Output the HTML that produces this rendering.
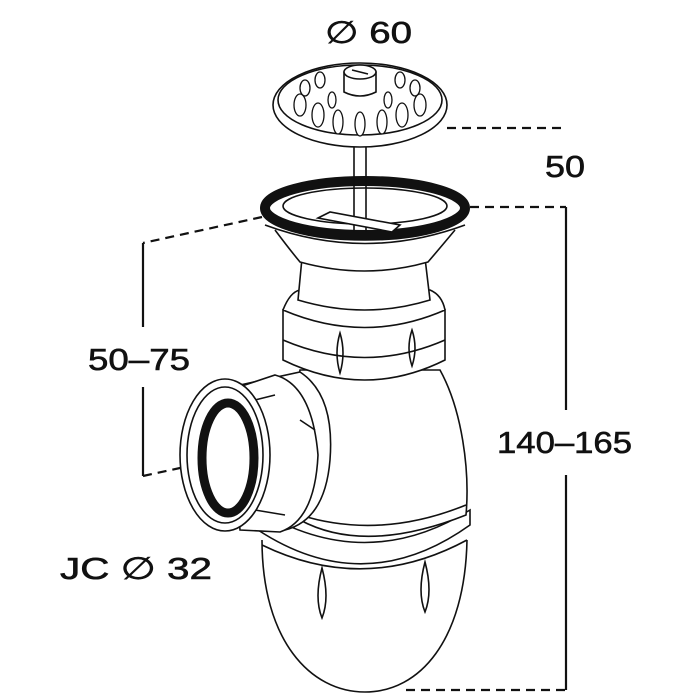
<!DOCTYPE html>
<html><head><meta charset="utf-8"><style>
html,body{margin:0;padding:0;background:#fff}
svg{display:block}
text{font-family:"Liberation Sans",sans-serif;fill:#111;stroke:#111;stroke-width:0.6}
</style></head><body>
<svg width="700" height="700" viewBox="0 0 700 700" xmlns="http://www.w3.org/2000/svg">
<g fill="none" stroke="#111" stroke-width="1.6">
<g stroke-width="2.2">
<path d="M447 128 H566" stroke-dasharray="9,6"/>
<path d="M470 207 H566" stroke-dasharray="9,6"/>
<path d="M566 207 V410 M566 475 V690"/>
<path d="M406 690 H566" stroke-dasharray="9,6"/>
<path d="M262 217 L143 243" stroke-dasharray="9,6"/>
<path d="M143 243 V327 M143 387 V476"/>
<path d="M143 476 L240 455" stroke-dasharray="9,6"/>
</g>
<path d="M262 540 C262 640 310 692 365 692 C420 692 465 640 467 540" fill="#fff"/>
<path d="M258 530 Q365 600 470 525 L470 510 Q365 575 258 510 Z" fill="#fff"/>
<path d="M262 545 Q365 595 467 540"/>
<path d="M322 568 q-8 30 0 50 q8 -20 0 -50 Z M425 562 q-8 30 0 50 q8 -20 0 -50 Z"/>
<path d="M300 370 C290 420 295 490 300 520 Q365 555 466 515 C470 470 462 410 440 370 Z" fill="#fff"/>
<path d="M300 515 Q380 540 466 505"/>
<path d="M283 310 L283 360 Q365 400 445 360 L445 310 Q365 345 283 310 Z" fill="#fff"/>
<path d="M283 310 Q290 292 300 290 L430 290 Q442 295 445 310" fill="#fff"/>
<path d="M283 340 Q365 375 445 340"/>
<path d="M340 333 q-6 20 0 40 q6 -20 0 -40 Z M412 330 q-6 18 0 36 q6 -18 0 -36 Z"/>
<path d="M298 300 L302 258 L425 258 L430 300 Q365 320 298 300 Z" fill="#fff"/>
<path d="M275 230 Q290 250 300 262 Q365 280 428 262 Q440 248 455 230" fill="#fff"/>
<ellipse cx="365" cy="210" rx="103" ry="30" fill="#fff"/>
<ellipse cx="365" cy="208" rx="100" ry="27" fill="none" stroke="#111" stroke-width="10"/>
<ellipse cx="365" cy="206" rx="82" ry="18" fill="#fff"/>
<path d="M265 225 Q365 262 465 225"/>
<path d="M354 120 V232 M366 120 V232"/>
<path d="M318 218 L330 212 L400 225 L392 232 Z" fill="#fff"/>
<path d="M240 385 L300 372 Q335 395 330 460 Q325 520 285 530 L245 525 Z" fill="#fff"/>
<path d="M230 390 L275 375 Q312 385 318 455 Q315 520 280 532 L240 530 Z" fill="#fff"/>
<path d="M255 400 L275 395 M300 420 L315 430 M255 510 L285 515"/>
<ellipse cx="225" cy="455" rx="45" ry="76" fill="#fff"/>
<ellipse cx="225" cy="455" rx="38" ry="68"/>
<ellipse cx="228" cy="458" rx="26" ry="55" fill="none" stroke="#111" stroke-width="9"/>
<ellipse cx="360" cy="105" rx="87" ry="42" fill="#fff"/>
<ellipse cx="360" cy="100" rx="82" ry="35"/>
<g fill="#fff" stroke-width="1.3">
<ellipse cx="300" cy="105" rx="6" ry="11"/><ellipse cx="318" cy="115" rx="6" ry="12"/>
<ellipse cx="338" cy="122" rx="5" ry="12"/><ellipse cx="360" cy="124" rx="5" ry="12"/>
<ellipse cx="382" cy="122" rx="5" ry="12"/><ellipse cx="402" cy="115" rx="6" ry="12"/>
<ellipse cx="420" cy="105" rx="6" ry="11"/><ellipse cx="305" cy="88" rx="5" ry="8"/>
<ellipse cx="320" cy="80" rx="5" ry="8"/><ellipse cx="400" cy="80" rx="5" ry="8"/>
<ellipse cx="415" cy="88" rx="5" ry="8"/><ellipse cx="332" cy="100" rx="4" ry="8"/>
<ellipse cx="388" cy="100" rx="4" ry="8"/>
</g>
<path d="M344 92 L344 72 Q360 64 376 72 L376 92 Q360 100 344 92 Z" fill="#fff"/>
<ellipse cx="360" cy="72" rx="16" ry="7" fill="#fff"/>
<path d="M352 70 L368 74"/>
</g>
<text x="325" y="43" font-size="31" textLength="87" lengthAdjust="spacingAndGlyphs">∅ 60</text>
<text x="545" y="177" font-size="31" textLength="40" lengthAdjust="spacingAndGlyphs">50</text>
<text x="88" y="370" font-size="31" textLength="102" lengthAdjust="spacingAndGlyphs">50–75</text>
<text x="497" y="453" font-size="31" textLength="135" lengthAdjust="spacingAndGlyphs">140–165</text>
<text x="60" y="579" font-size="31" textLength="152" lengthAdjust="spacingAndGlyphs">JC ∅ 32</text>
</svg>
</body></html>
